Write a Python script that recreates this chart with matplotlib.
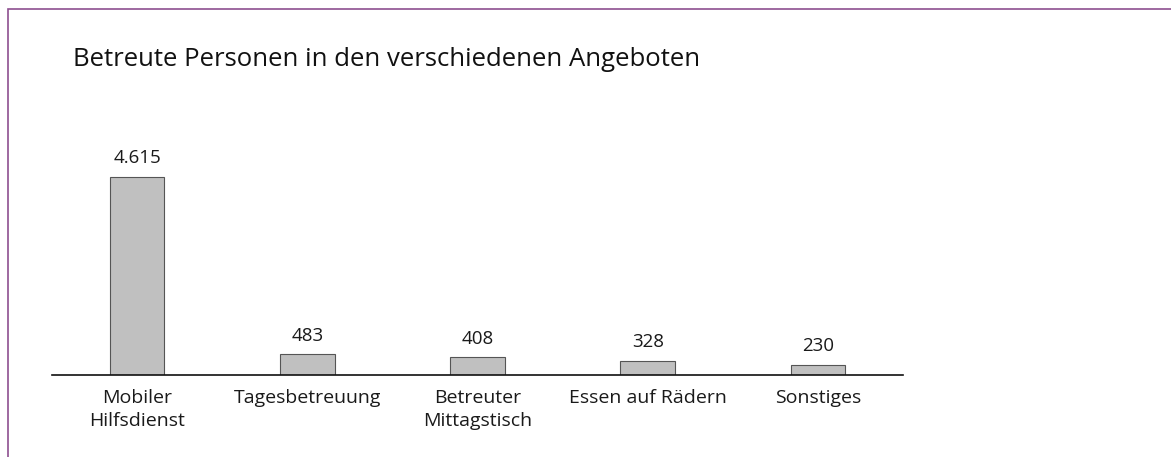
import matplotlib.pyplot as plt
from matplotlib.patches import Rectangle

categories = ["Mobiler\nHilfsdienst", "Tagesbetreuung", "Betreuter\nMittagstisch",
              "Essen auf Rädern", "Sonstiges"]
values = [4615, 483, 408, 328, 230]
value_labels = ["4.615", "483", "408", "328", "230"]

plt.rcParams['font.family'] = ['Open Sans', 'DejaVu Sans']

W, H = 1171, 457
fig = plt.figure(figsize=(W / 100, H / 100), dpi=100)

# frame line (top and left only visible)
fig.add_artist(Rectangle((8 / W, -0.1), 1.2, (H - 9) / H + 0.1, transform=fig.transFigure,
                         fill=False, edgecolor='#8e4f90', linewidth=1.2))

ax = fig.add_axes([52 / W, (H - 375) / H, (903 - 52) / W, (375 - 139) / H])
x = range(len(values))
ax.bar(x, values, width=0.32, color='#c0c0c0', edgecolor='#555555', linewidth=0.8, zorder=2)
ax.set_xlim(-0.5, 4.5)
ax.set_ylim(0, 5500)

for xi, v, lab in zip(x, values, value_labels):
    ax.annotate(lab, (xi, v), xytext=(0, 7), textcoords='offset points',
                ha='center', va='bottom', fontsize=13.5, color='#1a1a1a')

ax.set_xticks(list(x))
ax.set_xticklabels(categories, fontsize=14, color='#1a1a1a', linespacing=1.35, va='top')
ax.tick_params(axis='x', length=0, pad=10)
ax.set_yticks([])
for s in ['top', 'right', 'left']:
    ax.spines[s].set_visible(False)
ax.spines['bottom'].set_color('#111111')
ax.spines['bottom'].set_linewidth(1.2)

fig.text(73 / W, 1 - 59 / H, "Betreute Personen in den verschiedenen Angeboten",
         fontsize=18.5, va='center', ha='left', color='#111111')

fig.savefig("out.png", dpi=100)
